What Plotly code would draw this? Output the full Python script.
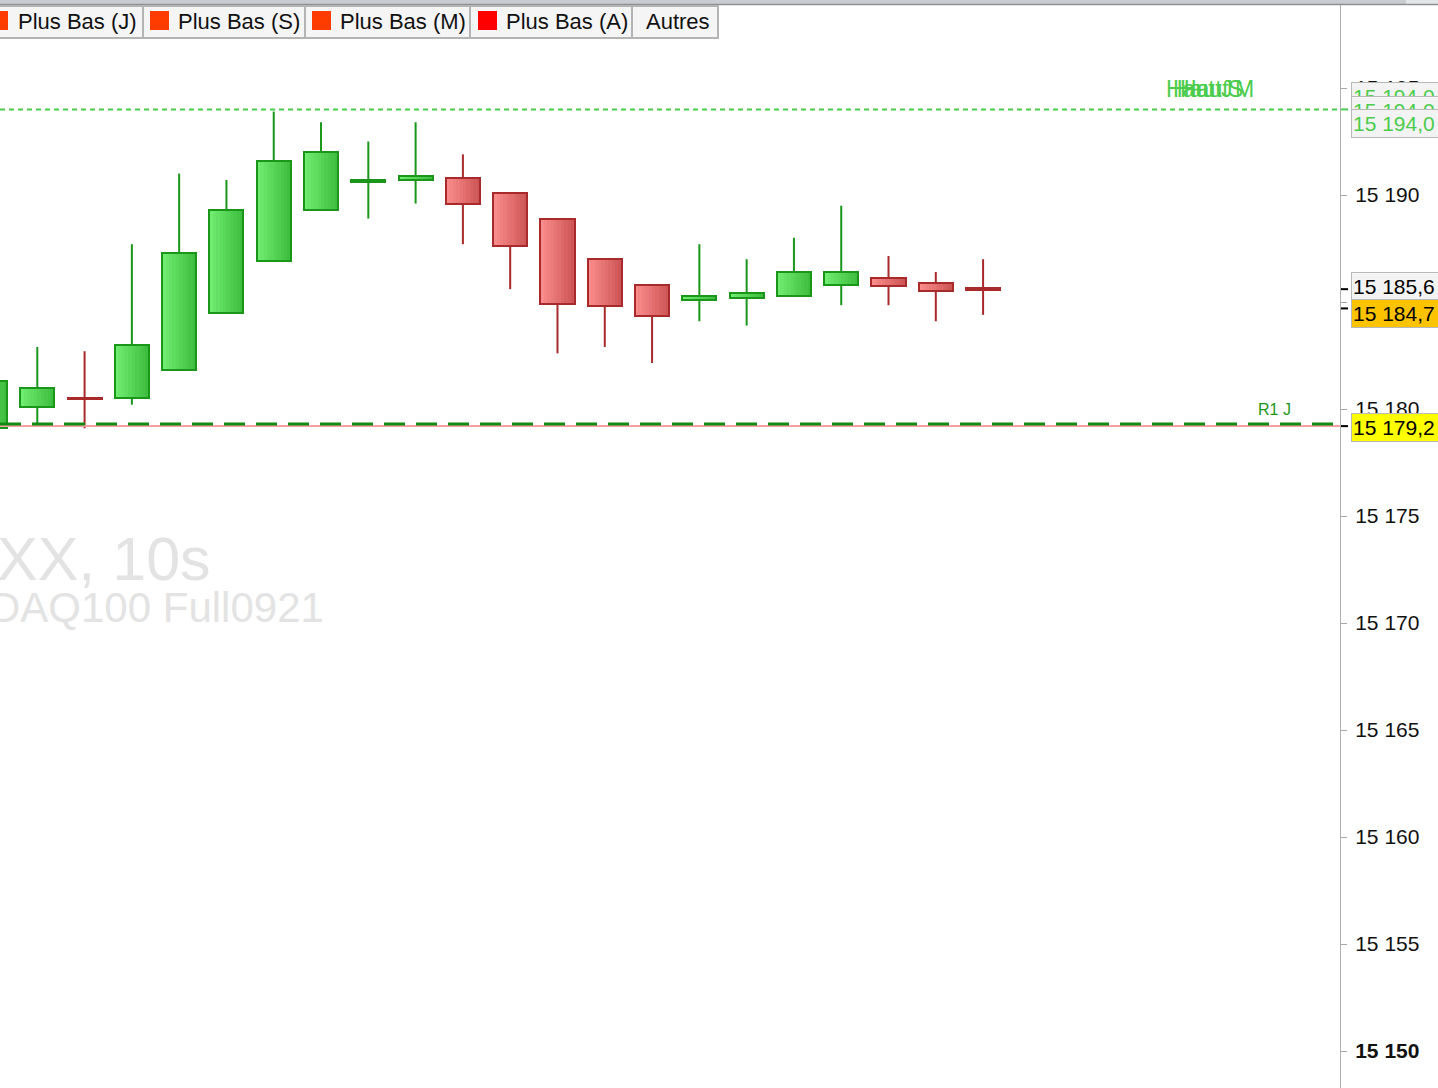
import plotly.graph_objects as go

# ---------------- data ----------------
candle_idx = list(range(22))
opens  = [15179.1, 15180.1, 15180.5, 15180.5, 15181.8, 15184.5, 15186.9, 15189.3, 15190.6, 15190.7, 15190.8,
          15190.1, 15188.9, 15187.0, 15185.8, 15185.1, 15185.2, 15185.3, 15185.8, 15186.1, 15185.9, 15185.65]
closes = [15181.3, 15181.0, 15180.45, 15183.0, 15187.3, 15189.3, 15191.6, 15192.0, 15190.7, 15190.9, 15189.6,
          15187.6, 15184.9, 15184.8, 15184.35, 15185.3, 15185.4, 15186.4, 15186.4, 15185.75, 15185.5, 15185.55]
highs  = [15181.5, 15182.9, 15182.7, 15187.7, 15191.0, 15190.7, 15193.9, 15193.4, 15192.5, 15193.4, 15191.9,
          15190.1, 15188.9, 15187.0, 15185.8, 15187.7, 15187.0, 15188.0, 15189.5, 15187.15, 15186.4, 15187.0]
lows   = [15179.0, 15179.2, 15179.1, 15180.2, 15181.8, 15184.5, 15186.9, 15189.3, 15188.9, 15189.6, 15187.7,
          15185.6, 15182.6, 15182.9, 15182.15, 15184.1, 15183.9, 15185.3, 15184.85, 15184.85, 15184.1, 15184.4]

tick_vals = [15150, 15155, 15160, 15165, 15170, 15175, 15180, 15185, 15190, 15195]
tick_text = ["<b>15 150</b>", "15 155", "15 160", "15 165", "15 170", "15 175", "15 180", "15 185", "15 190", "15 195"]

haut_level = 15194.0
r1j_level = 15179.3
plus_bas_level = 15179.2
last_price = 15185.6
bid_price = 15184.7

tab_labels = ["Plus Bas (J)", "Plus Bas (S)", "Plus Bas (M)", "Plus Bas (A)", "Autres"]
tab_colors = ["#ff3c00", "#ff3c00", "#ff3c00", "#ff0000", None]
haut_labels = ["Haut J", "Haut S", "Haut M"]
watermark1 = "XX, 10s"
watermark2 = "DAQ100 Full0921"

# ---------------- geometry helpers ----------------
W, H = 1438, 1088
PLOT_W = 1340
def px(x):
    return x / PLOT_W
def py(y):
    return 1 - y / H

GREEN_L, GREEN_R = (112, 236, 112), (62, 190, 62)
RED_L, RED_R = (250, 140, 140), (206, 86, 86)
GREEN_EDGE, RED_EDGE = "#1a961a", "#a82a2a"

def mix(a, b, t):
    return "rgb(%d,%d,%d)" % tuple(round(a[i] + (b[i] - a[i]) * t) for i in range(3))

fig = go.Figure()

up = [i for i in candle_idx if closes[i] >= opens[i]]
dn = [i for i in candle_idx if closes[i] < opens[i]]

# wicks (drawn only outside the bodies, since scatter lines sit above bars)
for grp, col in ((up, GREEN_EDGE), (dn, RED_EDGE)):
    xs, ys = [], []
    for i in grp:
        lo_b, hi_b = min(opens[i], closes[i]), max(opens[i], closes[i])
        if lows[i] < lo_b:
            xs += [i, i, None]
            ys += [lows[i], lo_b, None]
        if highs[i] > hi_b:
            xs += [i, i, None]
            ys += [hi_b, highs[i], None]
    fig.add_trace(go.Scatter(x=xs, y=ys, mode="lines", line=dict(color=col, width=2),
                             hoverinfo="skip", showlegend=False))

BW = 0.72
NSTRIP = 10
step = BW / NSTRIP
for grp, cl, cr, edge in ((up, GREEN_L, GREEN_R, GREEN_EDGE), (dn, RED_L, RED_R, RED_EDGE)):
    base = [min(opens[i], closes[i]) for i in grp]
    hgt = [abs(closes[i] - opens[i]) for i in grp]
    for j in range(NSTRIP):
        fig.add_trace(go.Bar(x=grp, y=hgt, base=base, width=step * 1.2 if j < NSTRIP - 1 else step,
                             offset=-BW / 2 + j * step,
                             marker=dict(color=mix(cl, cr, j / (NSTRIP - 1)), line=dict(width=0)),
                             hoverinfo="skip", showlegend=False))
    fig.add_trace(go.Bar(x=grp, y=hgt, base=base, width=BW, offset=-BW / 2,
                         marker=dict(color="rgba(0,0,0,0)", line=dict(color=edge, width=2)),
                         hoverinfo="skip", showlegend=False))

shapes = []
# level lines
shapes.append(dict(type="line", xref="paper", x0=0, x1=1, yref="y", y0=haut_level, y1=haut_level,
                   line=dict(color="#4ccc4c", width=2, dash="5px,4px")))
shapes.append(dict(type="line", xref="paper", x0=0, x1=1, yref="y", y0=plus_bas_level, y1=plus_bas_level,
                   line=dict(color="#f4a0a0", width=2)))
shapes.append(dict(type="line", xref="paper", x0=0, x1=1, yref="y", y0=r1j_level, y1=r1j_level,
                   line=dict(color="#128a12", width=3, dash="21px,11px")))
# price markers on axis
for lv, col in ((haut_level, "#4ccc4c"), (last_price, "#000000"), (bid_price, "#000000"), (plus_bas_level, "#000000")):
    shapes.append(dict(type="line", xref="paper", x0=px(1341), x1=px(1348), yref="y", y0=lv, y1=lv,
                       line=dict(color=col, width=2)))

# top bar
shapes.append(dict(type="rect", xref="paper", yref="paper", x0=px(0), x1=px(W), y0=py(0), y1=py(4),
                   fillcolor="#c9cdd1", line=dict(width=0), layer="above"))
shapes.append(dict(type="rect", xref="paper", yref="paper", x0=px(1406), x1=px(W), y0=py(0), y1=py(4),
                   fillcolor="#e3e6e9", line=dict(width=0), layer="above"))
shapes.append(dict(type="line", xref="paper", yref="paper", x0=px(0), x1=px(W), y0=py(4.5), y1=py(4.5),
                   line=dict(color="#909090", width=1.5), layer="above"))

# tabs
tab_edges = [-2, 143, 305, 470, 632, 718]
sq_x = [-11, 150, 312, 478]
tab_text_x = [16, 176, 338, 504, 644]
annotations = []
for t in range(5):
    shapes.append(dict(type="rect", xref="paper", yref="paper", x0=px(tab_edges[t]), x1=px(tab_edges[t + 1]),
                       y0=py(38), y1=py(6), fillcolor="#f5f5f5", line=dict(color="#b4b4b4", width=2),
                       layer="above"))
    if tab_colors[t]:
        shapes.append(dict(type="rect", xref="paper", yref="paper", x0=px(sq_x[t]), x1=px(sq_x[t] + 19),
                           y0=py(30), y1=py(11), fillcolor=tab_colors[t], line=dict(width=0), layer="above"))
    annotations.append(dict(text=tab_labels[t], xref="paper", yref="paper", x=px(tab_text_x[t]), y=py(21.5),
                            xanchor="left", yanchor="middle", showarrow=False,
                            font=dict(size=22, color="#111111", family="Liberation Sans, Arial")))

# watermark
annotations.append(dict(text=watermark1, xref="paper", yref="paper", x=px(213), y=py(559), xanchor="right",
                        yanchor="middle", showarrow=False,
                        font=dict(size=61, color="#e3e3e3", family="Liberation Sans, Arial")))
annotations.append(dict(text=watermark2, xref="paper", yref="paper", x=px(326), y=py(607), xanchor="right",
                        yanchor="middle", showarrow=False,
                        font=dict(size=42, color="#e3e3e3", family="Liberation Sans, Arial")))

# Haut labels (overlapping, as in the reference)
for n, lab in enumerate(haut_labels):
    annotations.append(dict(text=lab, xref="paper", yref="paper", x=px(1164 + n * 7), y=py(89),
                            xanchor="left", yanchor="middle", showarrow=False,
                            font=dict(size=23, color="#4ccc4c", family="Liberation Sans, Arial")))
# R1 J
annotations.append(dict(text="R1 J", xref="paper", yref="paper", x=px(1293), y=py(409), xanchor="right",
                        yanchor="middle", showarrow=False,
                        font=dict(size=16, color="#1a961a", family="Liberation Sans, Arial")))

# price boxes on axis
def price_box(val, text, color, bg, yshift):
    return dict(text=text, xref="paper", yref="y", x=px(1351), y=val, xanchor="left", yanchor="middle",
                yshift=yshift, showarrow=False, align="left", width=96, height=25, valign="middle",
                bgcolor=bg, bordercolor="#b8b8b8", borderwidth=1, borderpad=1,
                font=dict(size=21, color=color, family="Liberation Sans, Arial"))

def fmt(v):
    s = "%.1f" % v
    a, b = s.split(".")
    return a[:2] + " " + a[2:] + "," + b

annotations.append(price_box(haut_level, fmt(haut_level), "#4ccc4c", "#f3f3f3", 13))
annotations.append(price_box(haut_level, fmt(haut_level), "#4ccc4c", "#f3f3f3", -1))
annotations.append(price_box(haut_level, fmt(haut_level), "#4ccc4c", "#f3f3f3", -14))
annotations.append(price_box(last_price, fmt(last_price), "#000000", "#f3f3f3", 3))
annotations.append(price_box(bid_price, fmt(bid_price), "#000000", "#fcc400", -5))
annotations.append(price_box(plus_bas_level, fmt(plus_bas_level), "#000000", "#ffff00", -1))

fig.update_layout(
    width=W, height=H, autosize=False,
    margin=dict(l=0, r=W - PLOT_W, t=0, b=0, pad=0),
    paper_bgcolor="white", plot_bgcolor="white",
    barmode="overlay", bargap=0, showlegend=False,
    shapes=shapes, annotations=annotations,
    xaxis=dict(range=[10 / 47.29, 1350 / 47.29], visible=False, fixedrange=True),
    yaxis=dict(range=[15148.271, 15199.112], side="right", tickvals=tick_vals, ticktext=tick_text,
               ticks="outside", ticklen=6, tickcolor="#a8a8a8", tickwidth=1,
               showline=True, linecolor="#b0b0b0", linewidth=1, showgrid=False, zeroline=False,
               ticklabelstandoff=4,
               tickfont=dict(size=21, color="#111111", family="Liberation Sans, Arial"), fixedrange=True),
)

fig.write_html("out.html", config={"displayModeBar": False},
               post_script="document.body.style.margin='0';document.body.style.overflow='hidden';")
